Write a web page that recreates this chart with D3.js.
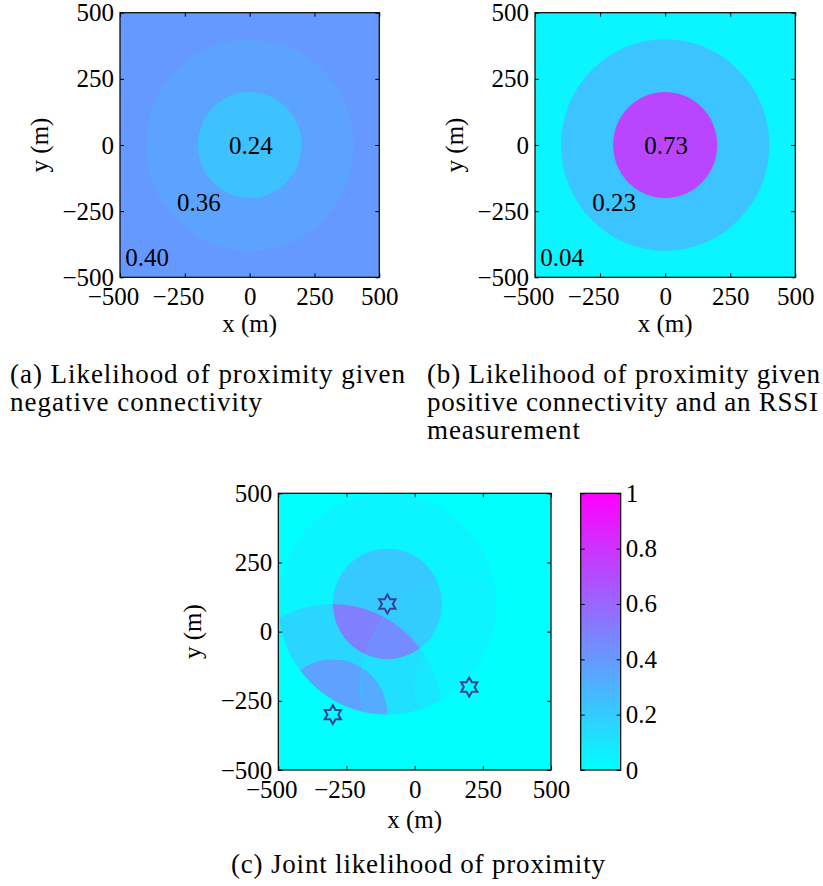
<!DOCTYPE html>
<html>
<head>
<meta charset="utf-8">
<script src="https://cdn.jsdelivr.net/npm/d3@7"></script>
<style>
  body { margin: 0; background: #fff; }
</style>
</head>
<body>
<div id="fig"></div>
<script>
// axis ticks (metres) and colour bar ticks
var ticks = [-500, -250, 0, 250, 500];
var cbarTicks = [0, 0.2, 0.4, 0.6, 0.8, 1];

// ring radii around an anchor (m): inner disk, outer ring
var innerR = 200, outerR = 400;

// panel (a) / (b) likelihood values: inside 200 m, 200-400 m, beyond 400 m
var negValues = [0.24, 0.36, 0.40];
var posValues = [0.73, 0.23, 0.04];
// where the value labels sit (data coords, left aligned)
var labelX = [-80, -280, -480];
var labelY = [0, -215, -425];

// panel (c) anchors (stars)
var anchorX = [-100, 200, -300];
var anchorY = [100, -200, -300];

var jointZones = [
  ["ring", "out", "out"],
  ["ring", "ring", "out"],
  ["ring", "in", "out"],
  ["in", "out", "out"],
  ["in", "ring", "out"],
  ["in", "out", "ring"],
  ["in", "ring", "ring"],
  ["ring", "out", "ring"],
  ["ring", "ring", "ring"],
  ["ring", "in", "ring"],
  ["ring", "out", "in"],
  ["ring", "ring", "in"]
];
var jointValues = [0.04, 0.045, 0.04, 0.21, 0.20, 0.50, 0.45, 0.16, 0.12, 0.09, 0.37, 0.33];

var serif = "Liberation Serif, Times New Roman, Times, DejaVu Serif, serif";

// matlab "cool" colormap
var cool = d3.scaleLinear().domain([0, 1]).range(["#00ffff", "#ff00ff"]);

var svg = d3.select("#fig").append("svg")
    .attr("width", 823)
    .attr("height", 886)
    .attr("font-family", serif)
    .style("background", "#fff");
var defs = svg.append("defs");

function fmt(d) { return d < 0 ? "\u2212" + Math.abs(d) : String(d); }

function ellipse(cx, cy, rx, ry) {
  return "M" + (cx - rx) + "," + cy +
    "A" + rx + "," + ry + " 0 1,0 " + (cx + rx) + "," + cy +
    "A" + rx + "," + ry + " 0 1,0 " + (cx - rx) + "," + cy + "Z";
}

// draws ticks, tick labels, box and axis titles
function drawAxes(g, x, y, w, h, yTitleOff, xTitleOff) {
  g.append("g")
      .attr("transform", "translate(0," + h + ")")
      .call(d3.axisBottom(x).tickValues(ticks).tickSizeInner(-4).tickSizeOuter(0).tickPadding(10).tickFormat(fmt))
      .call(function(a) { a.select(".domain").remove(); })
      .attr("font-family", serif).attr("font-size", 25)
    .selectAll("text")
      .attr("fill", "#000")
      .attr("dx", function(d) { return d < 0 ? "-0.28em" : 0; });

  g.append("g")
      .call(d3.axisTop(x).tickValues(ticks).tickSizeInner(-4).tickSizeOuter(0).tickFormat(""))
      .call(function(a) { a.select(".domain").remove(); });

  g.append("g")
      .call(d3.axisLeft(y).tickValues(ticks).tickSizeInner(-4).tickSizeOuter(0).tickPadding(6).tickFormat(fmt))
      .call(function(a) { a.select(".domain").remove(); })
      .attr("font-family", serif).attr("font-size", 25)
    .selectAll("text").attr("fill", "#000");

  g.append("g")
      .attr("transform", "translate(" + w + ",0)")
      .call(d3.axisRight(y).tickValues(ticks).tickSizeInner(-4).tickSizeOuter(0).tickFormat(""))
      .call(function(a) { a.select(".domain").remove(); });

  g.append("rect")
      .attr("width", w).attr("height", h)
      .attr("fill", "none").attr("stroke", "#000").attr("stroke-width", 1.2);

  g.append("text")
      .attr("x", w / 2).attr("y", h + xTitleOff)
      .attr("text-anchor", "middle")
      .attr("font-size", 25)
      .text("x (m)");

  g.append("text")
      .attr("transform", "translate(" + (-yTitleOff) + "," + (h / 2) + ") rotate(-90)")
      .attr("text-anchor", "middle")
      .attr("font-size", 25)
      .text("y (m)");
}

// panels (a) and (b): one anchor at origin with three zones
function ringPanel(left, top, w, h, values, id) {
  var x = d3.scaleLinear().domain([-500, 500]).range([0, w]);
  var y = d3.scaleLinear().domain([-500, 500]).range([h, 0]);
  var g = svg.append("g").attr("transform", "translate(" + left + "," + top + ")");

  defs.append("clipPath").attr("id", "plot-" + id)
    .append("rect").attr("width", w).attr("height", h);

  var p = g.append("g").attr("clip-path", "url(#plot-" + id + ")");
  p.append("rect").attr("width", w).attr("height", h).attr("fill", cool(values[2]));
  p.append("ellipse")
      .attr("cx", x(0)).attr("cy", y(0))
      .attr("rx", x(outerR) - x(0)).attr("ry", y(0) - y(outerR))
      .attr("fill", cool(values[1]));
  p.append("ellipse")
      .attr("cx", x(0)).attr("cy", y(0))
      .attr("rx", x(innerR) - x(0)).attr("ry", y(0) - y(innerR))
      .attr("fill", cool(values[0]));

  g.selectAll(".val")
      .data(values)
    .enter().append("text")
      .attr("class", "val")
      .attr("x", function(d, i) { return x(labelX[i]); })
      .attr("y", function(d, i) { return y(labelY[i]); })
      .attr("dy", "0.35em")
      .attr("font-size", 25)
      .text(function(d) { return d.toFixed(2); });

  drawAxes(g, x, y, w, h, 72, 55);
}

ringPanel(120, 12.7, 259.3, 264.6, negValues, "a");
ringPanel(535, 12.7, 260.3, 264.6, posValues, "b");

// panel (c)
(function() {
  var left = 278.3, top = 493.3, w = 272.7, h = 276.7;
  var x = d3.scaleLinear().domain([-500, 500]).range([0, w]);
  var y = d3.scaleLinear().domain([-500, 500]).range([h, 0]);
  var g = svg.append("g").attr("transform", "translate(" + left + "," + top + ")");

  defs.append("clipPath").attr("id", "plot-c")
    .append("rect").attr("width", w).attr("height", h);

  // zone clips for each anchor
  anchorX.forEach(function(ax, i) {
    var cx = x(ax), cy = y(anchorY[i]);
    var r1x = x(innerR) - x(0), r1y = y(0) - y(innerR);
    var r2x = x(outerR) - x(0), r2y = y(0) - y(outerR);
    defs.append("clipPath").attr("id", "c-" + i + "-in")
      .append("path").attr("d", ellipse(cx, cy, r1x, r1y));
    defs.append("clipPath").attr("id", "c-" + i + "-ring")
      .append("path").attr("clip-rule", "evenodd")
      .attr("d", ellipse(cx, cy, r2x, r2y) + ellipse(cx, cy, r1x, r1y));
    defs.append("clipPath").attr("id", "c-" + i + "-out")
      .append("path").attr("clip-rule", "evenodd")
      .attr("d", "M-20,-20H" + (w + 20) + "V" + (h + 20) + "H-20Z" + ellipse(cx, cy, r2x, r2y));
  });

  var p = g.append("g").attr("clip-path", "url(#plot-c)");
  p.append("rect").attr("width", w).attr("height", h).attr("fill", cool(0));

  jointZones.forEach(function(z, k) {
    p.append("g").attr("clip-path", "url(#c-0-" + z[0] + ")")
      .append("g").attr("clip-path", "url(#c-1-" + z[1] + ")")
      .append("rect").attr("clip-path", "url(#c-2-" + z[2] + ")")
        .attr("width", w).attr("height", h)
        .attr("fill", cool(jointValues[k]));
  });

  // hexagram markers
  var star = d3.lineRadial().curve(d3.curveLinearClosed)
      .angle(function(d, i) { return i * Math.PI / 6; })
      .radius(function(d, i) { return i % 2 ? 5.4 : 9.4; });
  g.selectAll(".star")
      .data(anchorX)
    .enter().append("path")
      .attr("class", "star")
      .attr("transform", function(d, i) { return "translate(" + x(d) + "," + y(anchorY[i]) + ")"; })
      .attr("d", star(d3.range(12)))
      .attr("fill", "none")
      .attr("stroke", "#3a4096")
      .attr("stroke-width", 2);

  drawAxes(g, x, y, w, h, 77, 58);

  // colour bar
  var cb = svg.append("g").attr("transform", "translate(580.7," + top + ")");
  var cw = 40;
  var cyS = d3.scaleLinear().domain([0, 1]).range([h, 0]);
  var grad = defs.append("linearGradient").attr("id", "cbar")
      .attr("x1", 0).attr("y1", 1).attr("x2", 0).attr("y2", 0);
  grad.selectAll("stop")
      .data(cbarTicks)
    .enter().append("stop")
      .attr("offset", function(d) { return d; })
      .attr("stop-color", function(d) { return cool(d); });
  cb.append("rect").attr("width", cw).attr("height", h).attr("fill", "url(#cbar)");
  cb.append("g")
      .attr("transform", "translate(" + cw + ",0)")
      .call(d3.axisRight(cyS).tickValues(cbarTicks).tickSizeInner(-4).tickSizeOuter(0).tickPadding(5)
        .tickFormat(function(d) { return String(d); }))
      .call(function(a) { a.select(".domain").remove(); })
      .attr("font-family", serif).attr("font-size", 25)
    .selectAll("text").attr("fill", "#000");
  cb.append("g")
      .call(d3.axisLeft(cyS).tickValues(cbarTicks).tickSizeInner(-4).tickSizeOuter(0).tickFormat(""))
      .call(function(a) { a.select(".domain").remove(); });
  cb.append("rect").attr("width", cw).attr("height", h)
      .attr("fill", "none").attr("stroke", "#000").attr("stroke-width", 1.2);
})();

// sub-figure captions
var captions = [
  {x: 10, y: 383, len: 395, t: "(a) Likelihood of proximity given"},
  {x: 10, y: 411, len: 252, t: "negative connectivity"},
  {x: 427, y: 383, len: 393, t: "(b) Likelihood of proximity given"},
  {x: 427, y: 411, len: 391, t: "positive connectivity and an RSSI"},
  {x: 427, y: 439, len: 153, t: "measurement"},
  {x: 231, y: 873, len: 374, t: "(c) Joint likelihood of proximity"}
];
svg.selectAll(".cap")
    .data(captions)
  .enter().append("text")
    .attr("class", "cap")
    .attr("x", function(d) { return d.x; })
    .attr("y", function(d) { return d.y; })
    .attr("textLength", function(d) { return d.len; })
    .attr("lengthAdjust", "spacing")
    .attr("font-size", 27)
    .text(function(d) { return d.t; });
</script>
</body>
</html>
